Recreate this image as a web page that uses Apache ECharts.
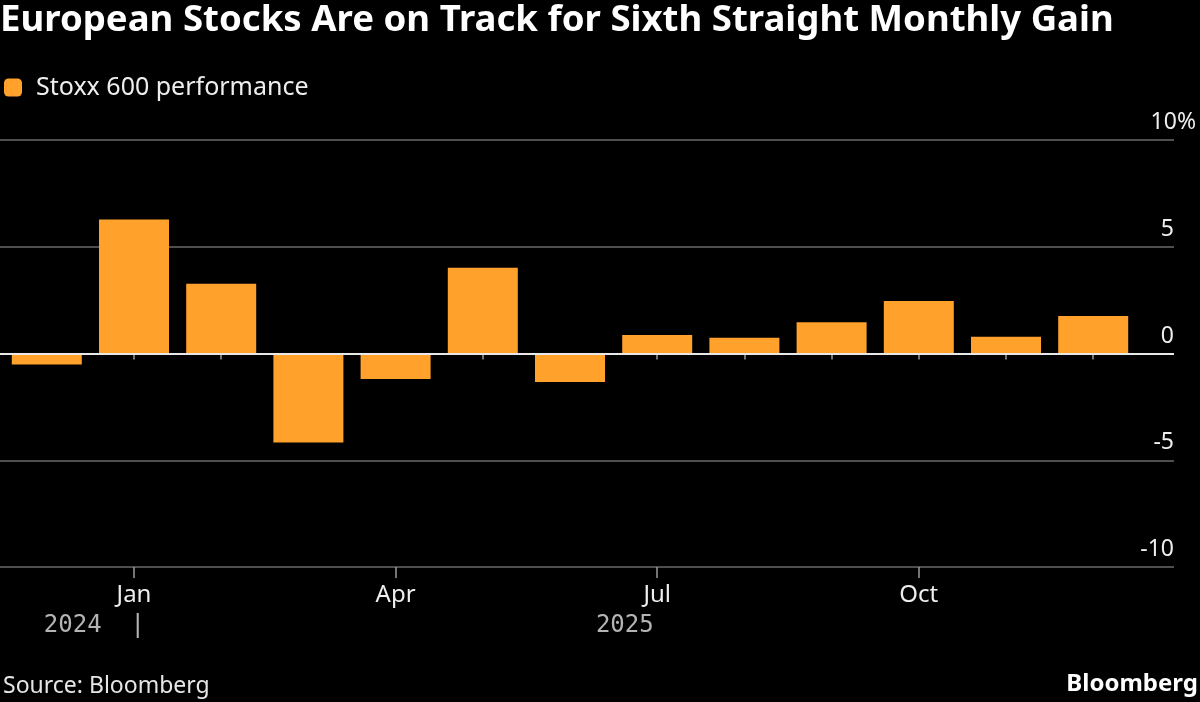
<!DOCTYPE html>
<html>
<head>
<meta charset="utf-8">
<script src="https://cdn.jsdelivr.net/npm/echarts@6/dist/echarts.min.js"></script>
<style>
    html, body { margin: 0; padding: 0; background: #000; }
    #chart { width: 1200px; height: 702px; }
</style>
</head>
<body>
<div id="chart"></div>
<script>
// monthly performance of the Stoxx 600, %
const months = ['2024-12', '2025-01', '2025-02', '2025-03', '2025-04', '2025-05', '2025-06',
    '2025-07', '2025-08', '2025-09', '2025-10', '2025-11', '2025-12']
const monthLabels = ['', 'Jan', '', '', 'Apr', '', '', 'Jul', '', '', 'Oct', '', '']
const yearLabels = ['2024  |', '', '', '', '', '', '  2025', '', '', '', '', '', '']
const stoxx = [-0.51, 6.28, 3.27, -4.17, -1.19, 4.02, -1.33, 0.87, 0.74, 1.46, 2.46, 0.79, 1.76]
const yMin = -10, yMax = 10, yStep = 5

const font = 'Noto Sans'
const gridColor = '#6a6a6a'
const barColor = '#ffa12b'

const myChart = echarts.init(document.getElementById('chart'))

const option = {
    backgroundColor: '#000',
    animation: false,
    textStyle: { fontFamily: font },
    title: [{
        text: 'European Stocks Are on Track for Sixth Straight Monthly Gain',
        left: 0, top: 2, padding: 0,
        textStyle: { color: '#fff', fontSize: 36.6, fontWeight: 'bold', fontFamily: font }
    }, {
        text: 'Source: Bloomberg',
        left: 3, bottom: 4, padding: 0,
        textStyle: { color: '#e6e6e6', fontSize: 23, fontWeight: 'normal', fontFamily: font }
    }, {
        text: 'Bloomberg',
        right: 2, bottom: 6, padding: 0,
        textStyle: { color: '#fff', fontSize: 24, fontWeight: 'bold', fontFamily: font }
    }],
    legend: {
        left: 4, top: 75, padding: 0,
        itemWidth: 18, itemHeight: 18,
        icon: 'roundRect',
        textStyle: { color: '#eee', fontSize: 25, padding: [0, 0, 0, 9] },
        data: ['Stoxx 600 performance']
    },
    grid: [
        // background grid: gridlines and value labels, full width
        { left: 0, right: 26, top: 140, bottom: 135 },
        // bars and month axis
        { left: 3.2, right: 63.2, top: 140, bottom: 135 }
    ],
    xAxis: [{
        gridIndex: 0, type: 'value', min: 0, max: 1, show: false
    }, {
        gridIndex: 1, type: 'category', position: 'bottom', data: months,
        axisLine: { show: false },
        axisTick: { show: true, alignWithLabel: true, length: 6, lineStyle: { color: '#9a9a9a', width: 1.5 } },
        axisLabel: {
            color: '#eee', fontSize: 24, margin: 16, interval: 0,
            formatter: (v, i) => monthLabels[i]
        }
    }, {
        gridIndex: 1, type: 'category', position: 'bottom', data: months,
        axisLine: { show: false },
        axisTick: {
            show: true, alignWithLabel: true, length: 11,
            interval: (i) => monthLabels[i] !== '',
            lineStyle: { color: '#9a9a9a', width: 1.5 }
        },
        axisLabel: {
            color: '#b4b4b4', fontSize: 24, fontFamily: 'DejaVu Sans Mono',
            margin: 47, interval: 0, align: 'left', padding: [0, 0, 0, -3],
            formatter: (v, i) => yearLabels[i]
        }
    }],
    yAxis: [{
        gridIndex: 0, type: 'value', position: 'right',
        min: yMin, max: yMax, interval: yStep,
        axisLine: { show: false },
        axisTick: { show: false },
        splitLine: { show: true, lineStyle: { color: gridColor, width: 1.5 } },
        axisLabel: {
            inside: true, margin: -22, verticalAlign: 'bottom',
            color: '#eee', fontSize: 23, padding: [0, 0, 6, 0],
            formatter: (v) => v === yMax ? '{v|' + v + '%}' : '{v|' + v + '}{s| }',
            rich: {
                v: { color: '#eee', fontSize: 23, fontFamily: font },
                s: { width: 22 }
            }
        }
    }, {
        // zero line drawn above bars
        gridIndex: 0, type: 'value', position: 'right', z: 5,
        min: yMin, max: yMax, interval: 10,
        axisLine: { show: false }, axisTick: { show: false }, axisLabel: { show: false },
        splitLine: { show: true, lineStyle: { color: ['rgba(0,0,0,0)', '#e8e8e8', 'rgba(0,0,0,0)'], width: 2 } }
    }, {
        gridIndex: 1, type: 'value', min: yMin, max: yMax, interval: yStep, show: false,
        splitLine: { show: false }
    }],
    series: [{
        name: 'Stoxx 600 performance',
        type: 'bar',
        xAxisIndex: 1,
        yAxisIndex: 2,
        barWidth: 70,
        itemStyle: { color: barColor },
        data: stoxx
    }]
}
myChart.setOption(option)
</script>
</body>
</html>
